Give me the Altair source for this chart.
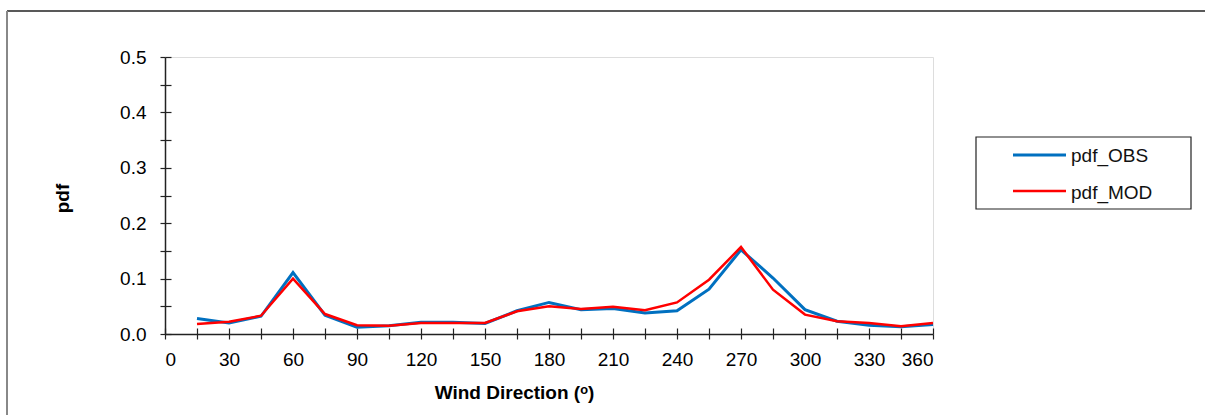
import altair as alt
import pandas as pd

# ---- data ----
direction = [15, 30, 45, 60, 75, 90, 105, 120, 135, 150, 165, 180,
             195, 210, 225, 240, 255, 270, 285, 300, 315, 330, 345, 360]
pdf_obs = [0.028, 0.020, 0.032, 0.111, 0.034, 0.012, 0.015, 0.021, 0.021, 0.019, 0.042, 0.057,
           0.044, 0.046, 0.038, 0.042, 0.081, 0.152, 0.101, 0.044, 0.023, 0.016, 0.013, 0.017]
pdf_mod = [0.018, 0.022, 0.033, 0.100, 0.036, 0.016, 0.015, 0.020, 0.020, 0.020, 0.041, 0.050,
           0.045, 0.049, 0.043, 0.057, 0.098, 0.157, 0.080, 0.035, 0.023, 0.020, 0.014, 0.020]
series_names = ["pdf_OBS", "pdf_MOD"]
series_colors = ["#0070C0", "#FF0000"]
series_widths = [3, 2.5]
x_ticks = list(range(0, 361, 15))
y_ticks = [round(i * 0.05, 2) for i in range(11)]
x_title = "Wind Direction (ᵒ)"
y_title = "pdf"

df = pd.DataFrame({
    "direction": direction * 2,
    "pdf": pdf_obs + pdf_mod,
    "series": [series_names[0]] * len(direction) + [series_names[1]] * len(direction),
})

W, H = 768, 277
FONT = "Liberation Sans"
FS = 19

xs = alt.Scale(domain=[0, 360], nice=False, zero=False)
ys = alt.Scale(domain=[0, 0.5], nice=False)
cs = alt.Scale(domain=series_names, range=series_colors)

x_main = alt.Axis(orient="bottom", values=x_ticks,
                  labelExpr="datum.value % 30 === 0 ? datum.label : ''",
                  tickSize=5, labelPadding=26, labelBaseline="alphabetic",
                  domainColor="#222", domainWidth=1.5, tickColor="#222", tickWidth=1.2,
                  labelFontSize=FS, labelFont=FONT, labelColor="black",
                  title=x_title, titleFont=FONT, titleFontSize=FS, titleFontWeight="bold",
                  titleX=349, titleY=64, titleAnchor="middle", titleAlign="center",
                  titleBaseline="alphabetic", grid=False)
y_main = alt.Axis(orient="left", values=y_ticks,
                  labelExpr="(round(datum.value*100) % 10 === 0) ? format(datum.value, '.1f') : ''",
                  tickSize=5, labelPadding=14,
                  domainColor="#222", domainWidth=1.5, tickColor="#222", tickWidth=1.2,
                  labelFontSize=FS, labelFont=FONT, labelColor="black",
                  title=y_title, titleFont=FONT, titleFontSize=FS, titleFontWeight="bold",
                  titleX=-97, titleY=141, titleAngle=270, titleAlign="center",
                  titleBaseline="alphabetic", grid=False)
x_inner = alt.Axis(orient="top", offset=-H, values=x_ticks, labels=False, domain=False,
                   tickSize=6, tickColor="#222", tickWidth=1.2, title=None, grid=False)
y_inner = alt.Axis(orient="right", offset=-W, values=y_ticks, labels=False, domain=False,
                   tickSize=6, tickColor="#222", tickWidth=1.2, title=None, grid=False)

base = alt.Chart(df)
obs = base.transform_filter(alt.datum.series == series_names[0]).mark_line(
    strokeWidth=series_widths[0]).encode(
    x=alt.X("direction:Q", scale=xs, axis=x_main),
    y=alt.Y("pdf:Q", scale=ys, axis=y_main),
    color=alt.Color("series:N", scale=cs, legend=None),
)
mod = base.transform_filter(alt.datum.series == series_names[1]).mark_line(
    strokeWidth=series_widths[1]).encode(
    x=alt.X("direction:Q", scale=xs, axis=x_inner),
    y=alt.Y("pdf:Q", scale=ys, axis=y_inner),
    color=alt.Color("series:N", scale=cs, legend=None),
)

one = pd.DataFrame({"k": [0]})
frame_top = alt.Chart(one).mark_rule(color="#222", strokeWidth=1.5).encode(
    x=alt.value(-158), x2=alt.value(1205 - 165 + 10), y=alt.value(-46))
frame_left = alt.Chart(one).mark_rule(color="#888", strokeWidth=2).encode(
    x=alt.value(-158), y=alt.value(-46), y2=alt.value(415 - 57 + 10))

legend_box = alt.Chart(one).mark_rect(fill="white", stroke="#222", strokeWidth=1.2).encode(
    x=alt.value(811), x2=alt.value(1026), y=alt.value(80), y2=alt.value(152))
legend_layers = [legend_box]
for i, name in enumerate(series_names):
    ldf = pd.DataFrame({"series": [name]})
    legend_layers.append(
        alt.Chart(ldf).mark_rule(color=series_colors[i], strokeWidth=series_widths[i]).encode(
            x=alt.value(848), x2=alt.value(901), y=alt.value(98 + 36 * i)))
    legend_layers.append(
        alt.Chart(ldf).mark_text(align="left", baseline="alphabetic", font=FONT,
                                 fontSize=FS, color="#111").encode(
            x=alt.value(906), y=alt.value(105 + 36.5 * i), text="series:N"))

chart = alt.layer(frame_top, frame_left, obs, mod, *legend_layers).resolve_axis(
    x="independent", y="independent"
).properties(
    width=W, height=H,
    autosize=alt.AutoSizeParams(type="none"),
    padding={"left": 165, "top": 57, "right": 1205 - 165 - W, "bottom": 415 - 57 - H},
).configure_view(stroke="#888", strokeWidth=2).configure(background="white")

chart.save("out.html", embed_options={"renderer": "svg", "actions": False})
